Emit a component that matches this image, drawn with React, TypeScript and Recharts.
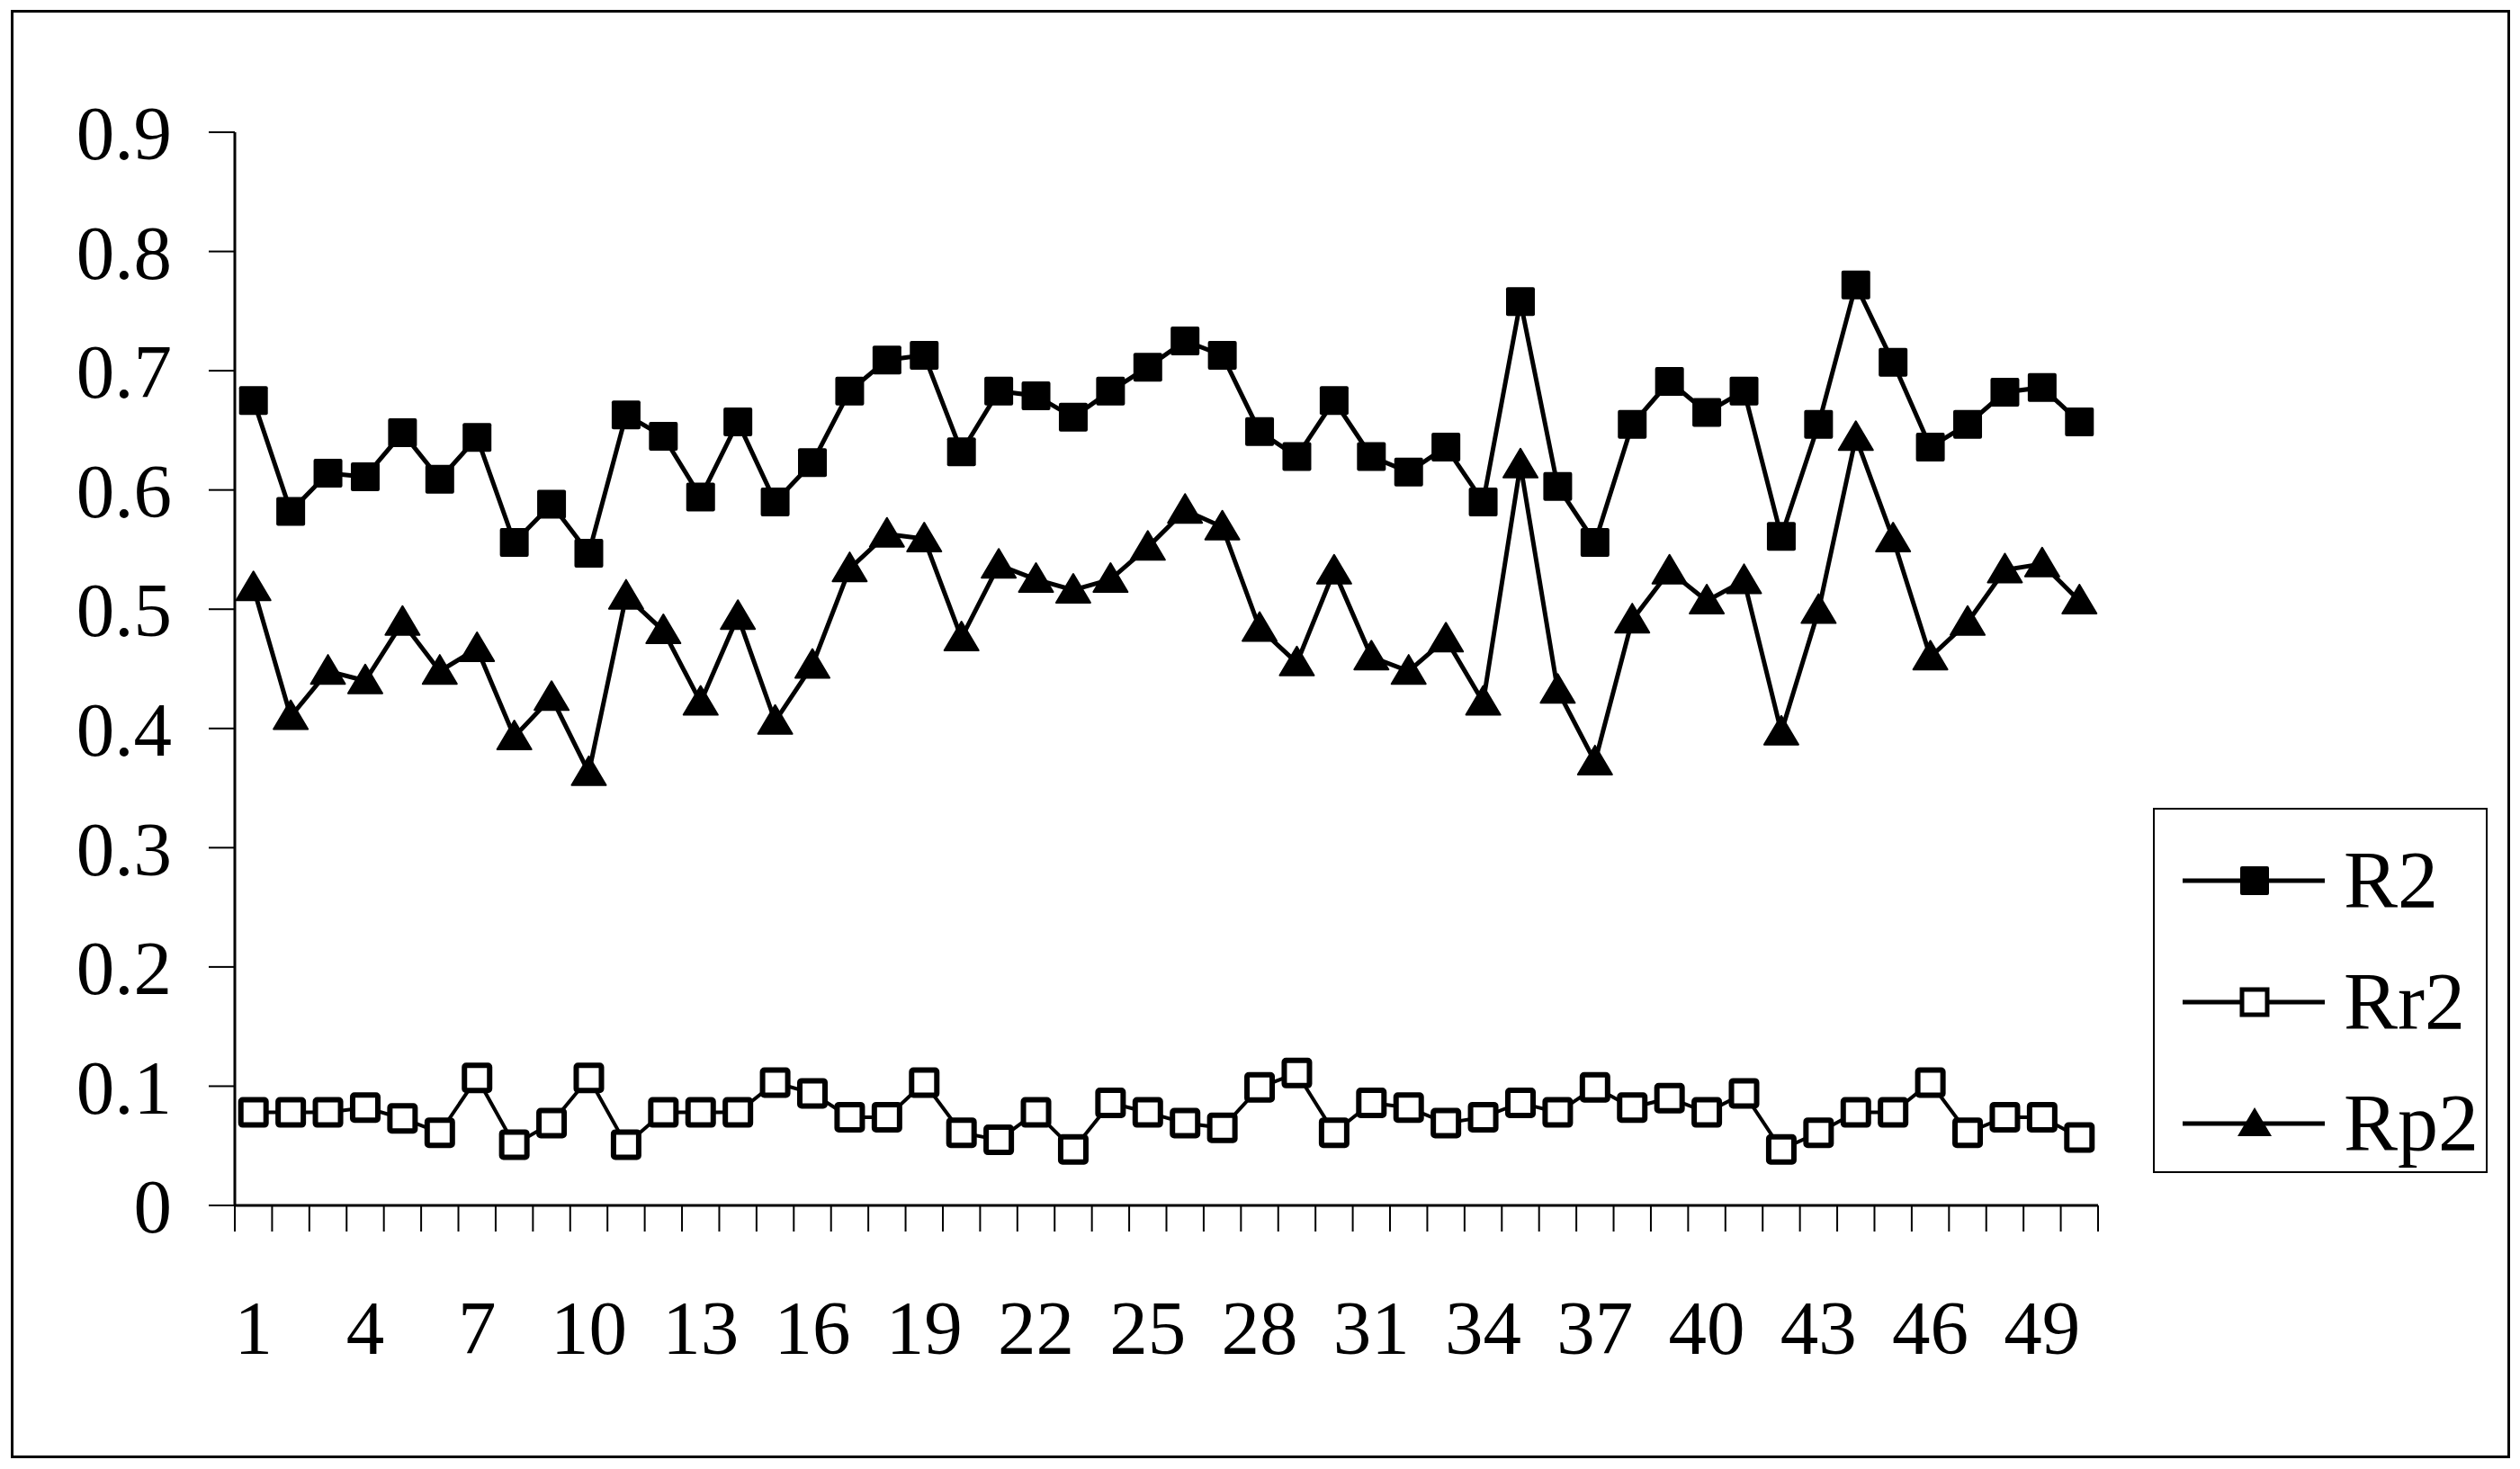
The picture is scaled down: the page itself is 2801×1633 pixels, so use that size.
import { LineChart, Line, XAxis, YAxis } from 'recharts';

// eixo x: 50 amostras
const categories = Array.from({ length: 50 }, (_, i) => i + 1);

const r2 = [
  0.675, 0.582, 0.614, 0.611, 0.648, 0.609, 0.644, 0.556, 0.588, 0.547,
  0.663, 0.645, 0.594, 0.657, 0.590, 0.623, 0.683, 0.709, 0.713, 0.632,
  0.683, 0.679, 0.661, 0.683, 0.703, 0.725, 0.713, 0.649, 0.628, 0.675,
  0.628, 0.615, 0.636, 0.590, 0.758, 0.603, 0.556, 0.655, 0.691, 0.665,
  0.683, 0.561, 0.655, 0.772, 0.707, 0.636, 0.655, 0.682, 0.686, 0.657,
];

const rr2 = [
  0.078, 0.078, 0.078, 0.082, 0.073, 0.061, 0.107, 0.051, 0.069, 0.107,
  0.051, 0.078, 0.078, 0.078, 0.103, 0.094, 0.074, 0.074, 0.103, 0.061,
  0.055, 0.078, 0.047, 0.086, 0.078, 0.069, 0.065, 0.099, 0.111, 0.061,
  0.086, 0.082, 0.069, 0.074, 0.086, 0.078, 0.099, 0.082, 0.090, 0.078,
  0.094, 0.047, 0.061, 0.078, 0.078, 0.103, 0.061, 0.074, 0.074, 0.057,
];

const rp2 = [
  0.518, 0.410, 0.448, 0.440, 0.489, 0.448, 0.467, 0.393, 0.426, 0.363,
  0.511, 0.482, 0.422, 0.494, 0.406, 0.453, 0.534, 0.563, 0.559, 0.476,
  0.537, 0.525, 0.516, 0.525, 0.552, 0.583, 0.569, 0.484, 0.455, 0.532,
  0.460, 0.448, 0.475, 0.422, 0.621, 0.432, 0.372, 0.491, 0.532, 0.507,
  0.524, 0.397, 0.499, 0.644, 0.559, 0.460, 0.489, 0.533, 0.538, 0.507,
];

const xLabels = [1, 4, 7, 10, 13, 16, 19, 22, 25, 28, 31, 34, 37, 40, 43, 46, 49];
const yTicks = [0, 0.1, 0.2, 0.3, 0.4, 0.5, 0.6, 0.7, 0.8, 0.9];

const data = categories.map((x, i) => ({ x, r2: r2[i], rr2: rr2[i], rp2: rp2[i] }));
// marcas do eixo entre as categorias (estilo Excel)
const boundaries = [...categories.map((c) => c - 0.5), categories.length + 0.5];

const FONT = '"Liberation Serif", "Times New Roman", serif';

const FilledSquare = (props: any) => {
  const { cx, cy } = props;
  if (cx == null || cy == null) return <g />;
  return <rect x={cx - 16} y={cy - 16} width={32} height={32} rx={2} fill="#000" />;
};

const OpenSquare = (props: any) => {
  const { cx, cy } = props;
  if (cx == null || cy == null) return <g />;
  return <rect x={cx - 14} y={cy - 14} width={28} height={28} rx={2} fill="#fff" stroke="#000" strokeWidth={6} />;
};

const Triangle = (props: any) => {
  const { cx, cy } = props;
  if (cx == null || cy == null) return <g />;
  return (
    <polygon
      points={`${cx},${cy - 18} ${cx + 19},${cy + 14} ${cx - 19},${cy + 14}`}
      fill="#000"
      stroke="#000"
      strokeWidth={2}
      strokeLinejoin="round"
    />
  );
};

function LegendBox() {
  const rows = [
    { name: 'R2', marker: <rect x={66} y={-16} width={32} height={32} rx={2} fill="#000" /> },
    { name: 'Rr2', marker: <rect x={68} y={-14} width={28} height={28} fill="#fff" stroke="#000" strokeWidth={5} /> },
    { name: 'Rp2', marker: <polygon points="82,-18 101,14 63,14" fill="#000" /> },
  ];
  return (
    <div
      style={{
        position: 'absolute',
        left: 2393,
        top: 898,
        width: 368,
        height: 402,
        border: '2px solid #000',
        background: '#fff',
      }}
    >
      {rows.map((r, i) => (
        <div
          key={r.name}
          style={{ position: 'absolute', left: 29, top: 79 + i * 135 - 50, height: 100, display: 'flex', alignItems: 'center' }}
        >
          <svg width={170} height={100} style={{ overflow: 'visible' }}>
            <g transform="translate(0,50)">
              <line x1={2} y1={0} x2={160} y2={0} stroke="#000" strokeWidth={5} />
              {r.marker}
            </g>
          </svg>
          <span style={{ fontFamily: FONT, fontSize: 90, lineHeight: '100px', marginLeft: 11, color: '#000' }}>
            {r.name}
          </span>
        </div>
      ))}
    </div>
  );
}

export default function App() {
  return (
    <div style={{ position: 'absolute', left: 0, top: 0, width: 2801, height: 1633, background: '#fff' }}>
      <div
        style={{
          position: 'absolute',
          left: 12,
          top: 11,
          width: 2772,
          height: 1604,
          border: '3px solid #000',
        }}
      />
      <div style={{ position: 'absolute', left: 0, top: 0 }}>
        <LineChart
          width={2801}
          height={1633}
          data={data}
          margin={{ top: 147, right: 469, bottom: 144, left: 61 }}
        >
          <XAxis
            xAxisId="b"
            dataKey="x"
            type="number"
            domain={[0.5, 50.5]}
            ticks={xLabels}
            interval={0}
            height={120}
            axisLine={false}
            tickLine={false}
            tickSize={0}
            tickMargin={76}
            tick={{ fill: '#000', fontSize: 85, fontFamily: FONT }}
          />
          <XAxis
            xAxisId="a"
            dataKey="x"
            type="number"
            domain={[0.5, 50.5]}
            ticks={boundaries}
            interval={0}
            tickFormatter={() => ''}
            tickSize={29}
            height={29}
            axisLine={{ stroke: '#000', strokeWidth: 3 }}
            tickLine={{ stroke: '#000', strokeWidth: 2 }}
          />
          <YAxis
            domain={[0, 0.9]}
            ticks={yTicks}
            interval={0}
            width={200}
            tickSize={29}
            tickMargin={41}
            tickFormatter={(v: number) => (v === 0 ? '0' : v.toFixed(1))}
            axisLine={{ stroke: '#000', strokeWidth: 3 }}
            tickLine={{ stroke: '#000', strokeWidth: 2 }}
            tick={{ fill: '#000', fontSize: 85, fontFamily: FONT }}
          />
          <Line
            xAxisId="b"
            dataKey="r2"
            stroke="#000"
            strokeWidth={5}
            dot={<FilledSquare />}
            activeDot={false}
            isAnimationActive={false}
          />
          <Line
            xAxisId="b"
            dataKey="rr2"
            stroke="#000"
            strokeWidth={4}
            dot={<OpenSquare />}
            activeDot={false}
            isAnimationActive={false}
          />
          <Line
            xAxisId="b"
            dataKey="rp2"
            stroke="#000"
            strokeWidth={5}
            dot={<Triangle />}
            activeDot={false}
            isAnimationActive={false}
          />
        </LineChart>
      </div>
      <LegendBox />
    </div>
  );
}
